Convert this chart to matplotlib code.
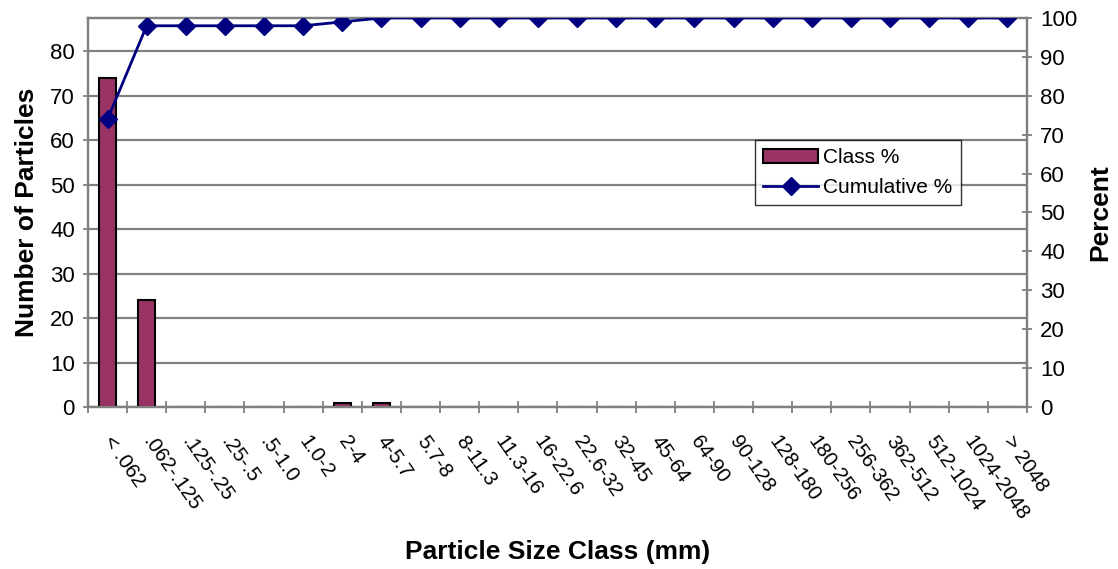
import numpy as np
import matplotlib.pyplot as plt
from matplotlib.ticker import FixedLocator

plt.rcParams["font.family"] = ["Liberation Sans", "DejaVu Sans"]

classes = ["< .062", ".062-.125", ".125-.25", ".25-.5", ".5-1.0", "1.0-2", "2-4",
           "4-5.7", "5.7-8", "8-11.3", "11.3-16", "16-22.6", "22.6-32", "32-45",
           "45-64", "64-90", "90-128", "128-180", "180-256", "256-362", "362-512",
           "512-1024", "1024-2048", "> 2048"]
class_pct = [74, 24, 0, 0, 0, 0, 1, 1, 0, 0, 0, 0, 0, 0, 0, 0, 0, 0, 0, 0, 0, 0, 0, 0]
cumulative = [74, 98, 98, 98, 98, 98, 99, 100, 100, 100, 100, 100, 100, 100, 100,
              100, 100, 100, 100, 100, 100, 100, 100, 100]

grid_col = "#808080"
x = np.arange(len(classes))

fig = plt.figure(figsize=(11.18, 5.69), dpi=100)
ax = fig.add_axes([0.0787, 0.2847, 0.8399, 0.6837])
ax2 = ax.twinx()

bars = ax.bar(x, class_pct, width=0.42, color="#993366", edgecolor="black",
              linewidth=1.5, label="Class %", zorder=3)
line, = ax2.plot(x, cumulative, color="#000080", linewidth=2, marker="D",
                 markersize=9, label="Cumulative %", zorder=4)

ax.set_xlim(-0.5, len(classes) - 0.5)
ax.set_ylim(0, 87.5)
ax2.set_ylim(0, 100)
ax.set_yticks(range(0, 81, 10))
ax2.set_yticks(range(0, 101, 10))

ax.yaxis.grid(True, color=grid_col, linewidth=1.6, zorder=0)
ax.set_axisbelow(True)

ax.set_xticks(x)
ax.set_xticklabels(classes, rotation=-55, ha="left", va="center",
                   rotation_mode="anchor", fontsize=14.8)
ax.tick_params(axis="x", which="major", length=0, pad=22)
ax.xaxis.set_minor_locator(FixedLocator(np.arange(-0.5, len(classes), 1)))
ax.tick_params(axis="x", which="minor", length=8, direction="inout",
               color=grid_col, width=1.3)
ax.tick_params(axis="y", labelsize=16, length=7, direction="inout",
               color=grid_col, width=1.3, pad=6)
ax2.tick_params(axis="y", labelsize=16, length=7, direction="inout",
                color=grid_col, width=1.3, pad=6)

for a in (ax, ax2):
    for s in a.spines.values():
        s.set_color(grid_col)
        s.set_linewidth(1.6)

ax.set_ylabel("Number of Particles", fontsize=19, fontweight="bold", va="center")
ax.yaxis.set_label_coords(-0.065, 0.5)
ax2.set_ylabel("Percent", fontsize=19, fontweight="bold", va="center")
ax2.yaxis.set_label_coords(1.078, 0.5)
ax.set_xlabel("Particle Size Class (mm)", fontsize=19, fontweight="bold", va="center")
ax.xaxis.set_label_coords(0.5, -0.373)

leg = ax.legend([bars, line], ["Class %", "Cumulative %"], loc="upper left",
                bbox_to_anchor=(0.710, 0.686), fontsize=15, frameon=True,
                fancybox=False, borderpad=0.4, handlelength=2.65,
                labelspacing=0.5, handletextpad=0.25, borderaxespad=0)
leg.get_frame().set_edgecolor("black")
leg.get_frame().set_linewidth(1)
leg.set_zorder(10)

fig.savefig("out.png", dpi=100)
